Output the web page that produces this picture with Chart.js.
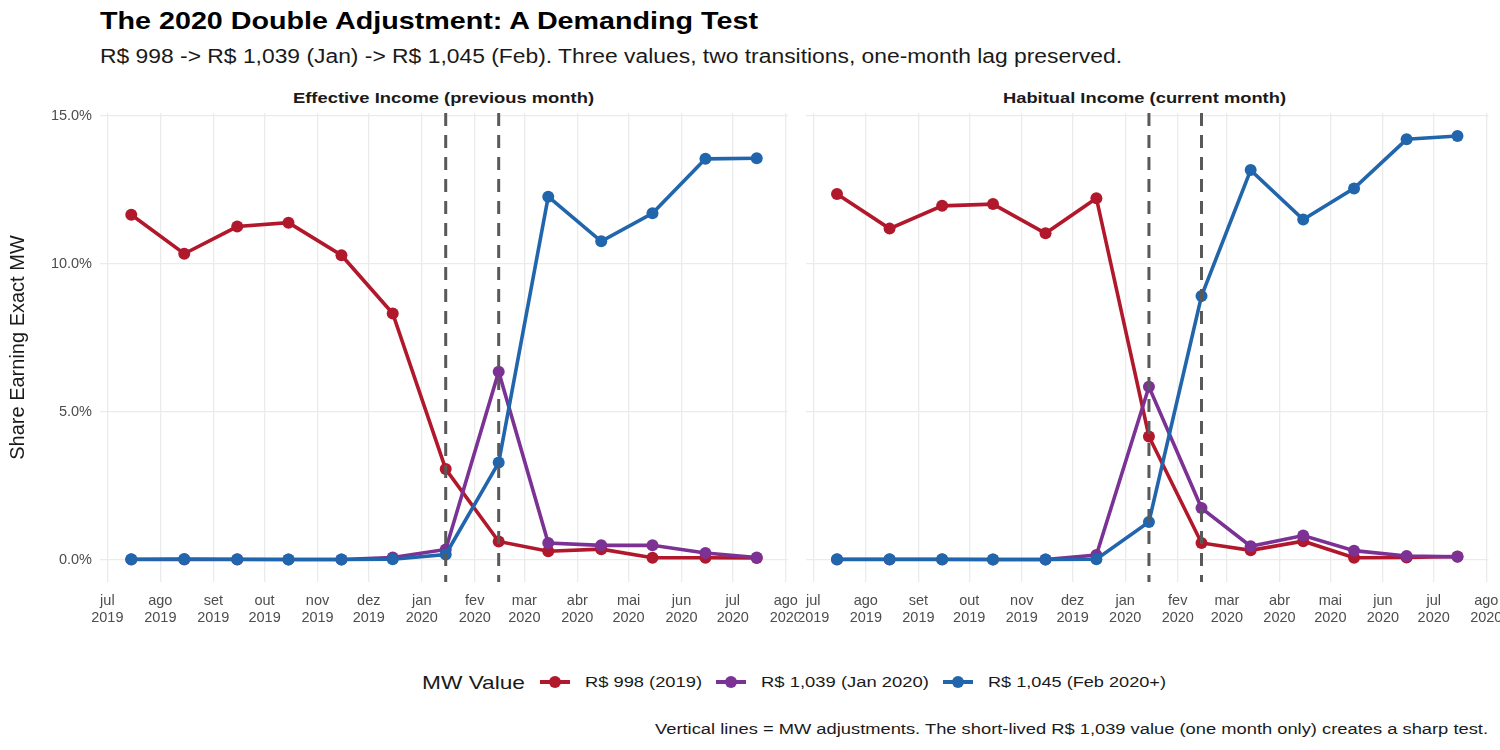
<!DOCTYPE html>
<html>
<head>
<meta charset="utf-8">
<script src="https://cdn.jsdelivr.net/npm/chart.js@4.4.1/dist/chart.umd.min.js"></script>
<style>
  body { margin: 0; width: 1500px; height: 750px; background: #fff; position: relative; overflow: hidden;
         font-family: "Liberation Sans", Arial, sans-serif; color: #1a1a1a; }
  .txt { position: absolute; line-height: 1; white-space: nowrap; }
  .sx { display: inline-block; white-space: nowrap; }
  .sx > span { display: inline-block; transform-origin: 0 0; }
  #title { left: 100px; top: 9px; font-size: 24px; font-weight: bold; color: #000; }
  #subtitle { left: 100px; top: 47px; font-size: 19.5px; }
  .strip { top: 90px; font-size: 15.5px; font-weight: bold; }
  #cLeft { position: absolute; left: 0; top: 84px; }
  #cRight { position: absolute; left: 800px; top: 84px; }
  #legend { position: absolute; left: 422px; top: 671px; height: 22px; display: flex; align-items: center; line-height: 1; }
  #legend .ttl { font-size: 19px; margin-right: 15px; }
  #legend .key { position: relative; width: 30px; height: 20px; margin-right: 15px; flex: none; }
  #legend .key .ln { position: absolute; left: 0; right: 0; top: 8px; height: 4px; }
  #legend .key .pt { position: absolute; left: 9px; top: 4px; width: 12px; height: 12px; border-radius: 50%; }
  #legend .lab { font-size: 15.5px; margin-right: 14px; }
  #caption { left: 655px; top: 721px; font-size: 15.5px; }
</style>
</head>
<body>
<div id="title" class="txt"><span class="sx" data-w="658"><span>The 2020 Double Adjustment: A Demanding Test</span></span></div>
<div id="subtitle" class="txt"><span class="sx" data-w="1022"><span>R$ 998 -&gt; R$ 1,039 (Jan) -&gt; R$ 1,045 (Feb). Three values, two transitions, one-month lag preserved.</span></span></div>
<div id="stripL" class="txt strip" style="left:293px"><span class="sx" data-w="301"><span>Effective Income (previous month)</span></span></div>
<div id="stripR" class="txt strip" style="left:1003px"><span class="sx" data-w="283"><span>Habitual Income (current month)</span></span></div>
<canvas id="cLeft" width="800" height="556"></canvas>
<canvas id="cRight" width="700" height="556"></canvas>
<div id="legend"></div>
<div id="caption" class="txt"><span class="sx" data-w="833"><span>Vertical lines = MW adjustments. The short-lived R$ 1,039 value (one month only) creates a sharp test.</span></span></div>

<script>
// --- dados ---
const obsDates = ['2019-07-15','2019-08-15','2019-09-15','2019-10-15','2019-11-15','2019-12-15',
                  '2020-01-15','2020-02-15','2020-03-15','2020-04-15','2020-05-15','2020-06-15','2020-07-15'];

// Effective income (previous month), % earning exactly each MW value
const effR998  = [11.66, 10.34, 11.26, 11.39, 10.29, 8.32, 3.06, 0.61, 0.28, 0.35, 0.06, 0.06, 0.05];
const effR1039 = [0.00, 0.00, 0.00, 0.00, 0.00, 0.07, 0.34, 6.35, 0.56, 0.48, 0.48, 0.22, 0.07];
const effR1045 = [0.01, 0.02, 0.01, 0.00, 0.00, 0.01, 0.17, 3.28, 12.27, 10.76, 11.71, 13.55, 13.57];

// Habitual income (current month)
const habR998  = [12.36, 11.19, 11.96, 12.02, 11.03, 12.22, 4.16, 0.56, 0.31, 0.62, 0.06, 0.07, 0.10];
const habR1039 = [0.00, 0.00, 0.00, 0.00, 0.00, 0.15, 5.84, 1.74, 0.45, 0.81, 0.30, 0.12, 0.09];
const habR1045 = [0.01, 0.01, 0.01, 0.00, 0.00, 0.01, 1.27, 8.91, 13.17, 11.50, 12.55, 14.21, 14.32];

const seriesNames  = ['R$ 998 (2019)', 'R$ 1,039 (Jan 2020)', 'R$ 1,045 (Feb 2020+)'];
const seriesColors = ['#B2182B', '#7B3294', '#2166AC'];
const legendWidths = [117, 168, 178];   // largura alvo dos rótulos da legenda

const tickDates  = ['2019-07-01','2019-08-01','2019-09-01','2019-10-01','2019-11-01','2019-12-01','2020-01-01',
                    '2020-02-01','2020-03-01','2020-04-01','2020-05-01','2020-06-01','2020-07-01','2020-08-01'];
const tickLabels = [['jul','2019'],['ago','2019'],['set','2019'],['out','2019'],['nov','2019'],['dez','2019'],
                    ['jan','2020'],['fev','2020'],['mar','2020'],['abr','2020'],['mai','2020'],['jun','2020'],
                    ['jul','2020'],['ago','2020']];
const adjustDates = ['2020-01-15', '2020-02-15'];
const yTicks = [0, 5, 10, 15];

// --- helpers ---
const ORIGIN = Date.parse('2019-07-01');
const dayOf = s => (Date.parse(s) - ORIGIN) / 864e5;
const X_MIN = dayOf('2019-07-15') - 18.3;
const X_MAX = dayOf('2020-07-15') + 18.3;
const GRID = '#ebebeb';
const FONT = '"Liberation Sans", Arial, sans-serif';

// linhas verticais tracejadas (ajustes do SM)
const vlinePlugin = {
  id: 'vlines',
  afterDatasetsDraw(chart) {
    const { ctx, chartArea, scales } = chart;
    ctx.save();
    ctx.strokeStyle = '#595959';
    ctx.lineWidth = 3;
    ctx.setLineDash([13, 9]);
    adjustDates.forEach(d => {
      const px = scales.x.getPixelForValue(dayOf(d));
      ctx.beginPath();
      ctx.moveTo(px, chartArea.top);
      ctx.lineTo(px, chartArea.bottom);
      ctx.stroke();
    });
    ctx.restore();
  }
};

function makeDatasets(vals) {
  return vals.map((v, i) => ({
    label: seriesNames[i],
    data: obsDates.map((d, j) => ({ x: dayOf(d), y: v[j] })),
    borderColor: seriesColors[i],
    backgroundColor: seriesColors[i],
    pointBackgroundColor: seriesColors[i],
    borderWidth: 3.6,
    pointRadius: 6,
    pointBorderWidth: 0,
    tension: 0,
    clip: false,
    order: 3 - i
  }));
}

function makeChart(canvas, vals, showY) {
  return new Chart(canvas, {
    type: 'line',
    data: { datasets: makeDatasets(vals) },
    options: {
      responsive: false,
      animation: false,
      events: [],
      layout: { padding: { left: 0, right: showY ? 12 : 11.5, top: 29, bottom: 0 } },
      plugins: { legend: { display: false }, tooltip: { enabled: false } },
      scales: {
        x: {
          type: 'linear', min: X_MIN, max: X_MAX,
          afterBuildTicks: s => { s.ticks = tickDates.map(d => ({ value: dayOf(d) })); },
          afterFit: s => { s.height = 58; s.paddingLeft = 0; s.paddingRight = 0; },
          ticks: {
            autoSkip: false, maxRotation: 0, minRotation: 0, padding: 10,
            color: '#4d4d4d', font: { family: FONT, size: 14.5, lineHeight: 1.18 },
            callback: (v, i) => tickLabels[i]
          },
          grid: { color: GRID, lineWidth: 1.3, drawTicks: false },
          border: { display: false }
        },
        y: {
          type: 'linear', min: -0.76, max: 15.1,
          afterBuildTicks: s => { s.ticks = yTicks.map(v => ({ value: v })); },
          afterFit: s => { s.width = showY ? 100 : 0; s.paddingTop = 0; s.paddingBottom = 0; },
          ticks: {
            display: showY, padding: 8, color: '#4d4d4d', font: { family: FONT, size: 14.5 },
            callback: v => v.toFixed(1) + '%'
          },
          title: {
            display: showY, text: 'Share Earning Exact MW', color: '#1a1a1a',
            font: { family: FONT, size: 20 }, padding: { top: 6, bottom: 0 }
          },
          grid: { color: GRID, lineWidth: 1.3, drawTicks: false },
          border: { display: false }
        }
      }
    },
    plugins: [vlinePlugin]
  });
}

makeChart(document.getElementById('cLeft'), [effR998, effR1039, effR1045], true);
makeChart(document.getElementById('cRight'), [habR998, habR1039, habR1045], false);

// legenda
const leg = document.getElementById('legend');
leg.innerHTML = '<span class="ttl sx" data-w="103"><span>MW Value</span></span>' + seriesNames.map((n, i) =>
  `<span class="key"><span class="ln" style="background:${seriesColors[i]}"></span>` +
  `<span class="pt" style="background:${seriesColors[i]}"></span></span>` +
  `<span class="lab sx" data-w="${legendWidths[i]}"><span>${n}</span></span>`).join('');

// o texto da referência é mais largo: estica cada bloco até a largura medida
document.querySelectorAll('.sx').forEach(el => {
  const inner = el.firstElementChild;
  const w = inner.getBoundingClientRect().width;
  const target = +el.dataset.w;
  el.style.width = target + 'px';
  inner.style.transform = `scaleX(${target / w})`;
});
</script>
</body>
</html>
